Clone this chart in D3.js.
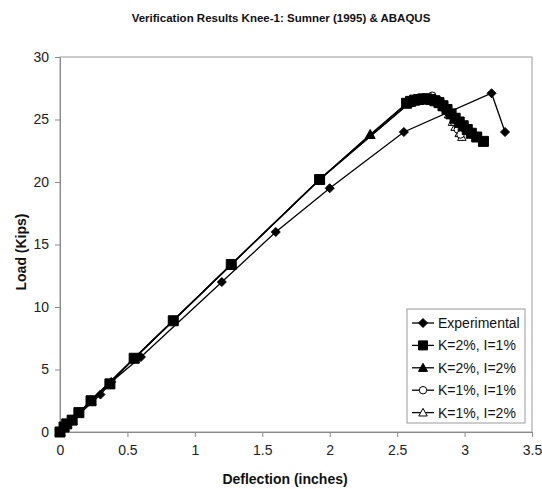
<!DOCTYPE html>
<html><head><meta charset="utf-8">
<script src="https://cdn.jsdelivr.net/npm/d3@7"></script>
<style>
html,body{margin:0;padding:0;background:#fff;}
svg{display:block;font-family:"Liberation Sans",Arial,sans-serif;}
</style></head>
<body>
<svg id="chart" width="542" height="489"></svg>
<script>
// ---- data ----
const title = "Verification Results Knee-1: Sumner (1995) & ABAQUS";
const xTitle = "Deflection (inches)";
const yTitle = "Load (Kips)";
const xTicks = [0, 0.5, 1, 1.5, 2, 2.5, 3, 3.5];
const yTicks = [0, 5, 10, 15, 20, 25, 30];

const seriesNames = ["Experimental", "K=2%, I=1%", "K=2%, I=2%", "K=1%, I=1%", "K=1%, I=2%"];

const experimental = [[0,0],[0.3,3.0],[0.38,4.0],[0.6,6.0],[1.2,12.0],[1.6,16.0],[2.0,19.5],[2.55,24.0],[3.2,27.1],[3.3,24.0]];

const k2i1 = [[0,0],[0.03,0.4],[0.05,0.65],[0.09,0.95],[0.14,1.55],[0.23,2.5],[0.37,3.85],[0.55,5.9],[0.84,8.9],[1.27,13.4],[1.925,20.2],
  [2.57,26.3],[2.6,26.45],[2.63,26.55],[2.66,26.6],[2.69,26.65],[2.72,26.65],[2.75,26.6],[2.78,26.5],[2.81,26.35],[2.84,26.1],
  [2.87,25.8],[2.9,25.45],[2.93,25.1],[2.96,24.8],[2.99,24.5],[3.02,24.2],[3.05,23.9],[3.09,23.6],[3.14,23.25]];

const k2i2 = [[0,0],[0.03,0.4],[0.09,0.95],[0.23,2.5],[0.55,5.9],[1.27,13.4],[1.925,20.2],[2.3,23.8],
  [2.58,26.35],[2.63,26.5],[2.68,26.6],[2.73,26.6],[2.78,26.5],[2.82,26.3],[2.86,26.0],[2.9,25.5],[2.93,25.1],[2.96,24.7]];

const k1i1 = [[0,0],[0.03,0.4],[0.09,0.95],[0.23,2.5],[0.55,5.9],[1.27,13.4],[1.925,20.2],
  [2.6,26.4],[2.68,26.7],[2.76,26.9],[2.82,26.5],[2.86,26.0],[2.89,25.4],[2.92,24.8],[2.95,24.2],[2.97,23.8]];

const k1i2 = [[0,0],[0.03,0.4],[0.09,0.95],[0.23,2.5],[0.55,5.9],[1.27,13.4],[1.925,20.2],
  [2.6,26.4],[2.7,26.6],[2.78,26.5],[2.84,26.0],[2.88,25.4],[2.91,24.8],[2.93,24.4],[2.96,23.9],[2.98,23.6]];

// ---- layout ----
const svg = d3.select("#chart");
const L = 60, R = 532, T = 57, B = 432;
const x = d3.scaleLinear().domain([0, 3.5]).range([L, R]);
const y = d3.scaleLinear().domain([0, 30]).range([B, T]);

// custom marker shapes
const diamondSym = { draw(c, s) { const r = Math.sqrt(s) / 2; c.moveTo(0,-r); c.lineTo(r,0); c.lineTo(0,r); c.lineTo(-r,0); c.closePath(); } };
const triSym = { draw(c, s) { const r = Math.sqrt(s) / 2; c.moveTo(0,-r); c.lineTo(r,r*0.8); c.lineTo(-r,r*0.8); c.closePath(); } };
const sqSym = { draw(c, s) { const r = Math.sqrt(s) / 2; c.rect(-r,-r,2*r,2*r); } };
const circSym = { draw(c, s) { const r = Math.sqrt(s) / 2; c.moveTo(r,0); c.arc(0,0,r,0,2*Math.PI); } };

const styles = [
  { data: experimental, sym: diamondSym, size: 81, fill: "#000" },
  { data: k2i1, sym: sqSym, size: 100, fill: "#000" },
  { data: k2i2, sym: triSym, size: 100, fill: "#000" },
  { data: k1i1, sym: circSym, size: 56, fill: "#fff" },
  { data: k1i2, sym: triSym, size: 72, fill: "#fff" }
];

// plot border
svg.append("rect").attr("x", L).attr("y", T).attr("width", R - L).attr("height", B - T)
  .attr("fill", "#fff").attr("stroke", "#9a9a9a").attr("stroke-width", 1);

// axes
const xAxis = d3.axisBottom(x).tickValues(xTicks).tickSize(5).tickPadding(8).tickFormat(d3.format("~g"));
const yAxis = d3.axisLeft(y).tickValues(yTicks).tickSize(5).tickPadding(6).tickFormat(d3.format("~g"));
const gx = svg.append("g").attr("transform", `translate(0,${B})`).call(xAxis);
const gy = svg.append("g").attr("transform", `translate(${L},0)`).call(yAxis);
[gx, gy].forEach(g => {
  g.select(".domain").attr("stroke", "#8a8a8a");
  g.selectAll(".tick line").attr("stroke", "#8a8a8a");
  g.selectAll(".tick text").attr("fill", "#222").attr("font-size", 14)
    .attr("font-family", "'Liberation Sans', Arial, sans-serif");
});

// series: draw open series first, then filled, experimental last
const line = d3.line().x(d => x(d[0])).y(d => y(d[1]));
const order = [4, 3, 2, 1, 0];
order.forEach(i => {
  const s = styles[i];
  const g = svg.append("g");
  g.append("path").attr("d", line(s.data)).attr("fill", "none").attr("stroke", "#000").attr("stroke-width", 1.3);
  g.selectAll("path.m").data(s.data).enter().append("path").attr("class", "m")
    .attr("transform", d => `translate(${x(d[0])},${y(d[1])})`)
    .attr("d", d3.symbol().type(s.sym).size(s.size))
    .attr("fill", s.fill).attr("stroke", "#000").attr("stroke-width", 1);
});

// titles
svg.append("text").attr("x", 281).attr("y", 22).attr("text-anchor", "middle")
  .attr("font-size", 11.5).attr("font-weight", "bold").attr("fill", "#111").text(title);
svg.append("text").attr("x", 285).attr("y", 484).attr("text-anchor", "middle")
  .attr("font-size", 14).attr("font-weight", "bold").attr("fill", "#111").text(xTitle);
svg.append("text").attr("transform", "translate(26,252) rotate(-90)").attr("text-anchor", "middle")
  .attr("font-size", 14).attr("font-weight", "bold").attr("fill", "#111").text(yTitle);

// legend
const lg = svg.append("g");
lg.append("rect").attr("x", 407).attr("y", 309).attr("width", 118).attr("height", 114)
  .attr("fill", "#fff").attr("stroke", "#9a9a9a");
seriesNames.forEach((name, i) => {
  const yy = 323 + i * 22.4;
  const s = styles[i];
  lg.append("line").attr("x1", 412).attr("x2", 434).attr("y1", yy).attr("y2", yy).attr("stroke", "#000").attr("stroke-width", 1.3);
  lg.append("path").attr("transform", `translate(423,${yy})`).attr("d", d3.symbol().type(s.sym).size(Math.min(s.size, 81)))
    .attr("fill", s.fill).attr("stroke", "#000");
  lg.append("text").attr("x", 438).attr("y", yy + 5).attr("font-size", 14).attr("fill", "#111").text(name);
});
</script>
</body></html>
